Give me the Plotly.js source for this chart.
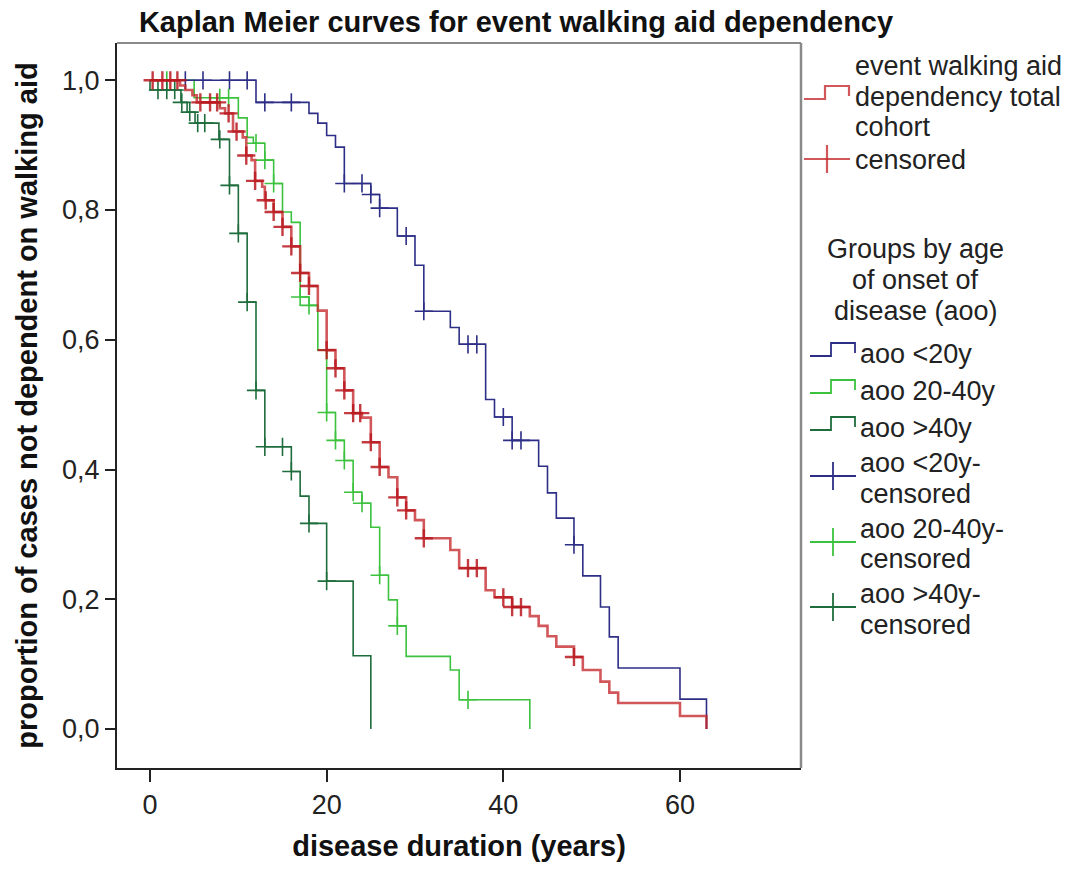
<!DOCTYPE html>
<html>
<head>
<meta charset="utf-8">
<script src="https://cdn.plot.ly/plotly-3.0.1.min.js"></script>
<style>
  html, body { margin: 0; padding: 0; background: #fff; }
  #chart { width: 1077px; height: 870px; }
</style>
</head>
<body>
<div id="chart"></div>
<script>
// Kaplan-Meier estimates: event times (years), survival after each event, censored times

// total cohort
const totalTimes = [3.4, 4, 4.8, 5.3, 7.9, 8.5, 9.4, 10.5, 10.9, 11.5, 11.9, 12.7, 13, 14, 15, 16, 17, 18, 19, 20,
  21, 22, 23, 24, 25, 26, 27, 28, 29, 30, 31, 34, 35, 38, 39, 41, 43, 44, 45, 46, 48, 49, 51, 52, 53, 60, 63];
const totalSurv = [0.992, 0.985, 0.977, 0.966, 0.957, 0.949, 0.921, 0.912, 0.884, 0.877, 0.845, 0.836, 0.815, 0.797,
  0.774, 0.744, 0.703, 0.683, 0.645, 0.584, 0.556, 0.522, 0.487, 0.480, 0.442, 0.404, 0.388, 0.357, 0.337, 0.322,
  0.294, 0.276, 0.248, 0.214, 0.203, 0.188, 0.174, 0.159, 0.143, 0.127, 0.111, 0.091, 0.073, 0.056, 0.040, 0.020, 0];
const totalCensored = [0.3, 1.4, 2.3, 3.1, 5.7, 6.8, 7.6, 8.9, 9.8, 10.9, 11.9, 13.1, 14, 15, 16, 17, 18, 20, 21, 22,
  23, 23.8, 25, 26, 28, 29, 31, 36, 37, 40, 41, 42, 48];

// age of onset < 20 years
const aooU20Times = [12, 18, 19, 20, 21, 22, 25, 26, 28, 30, 31, 34, 35, 38, 39, 41, 44, 45, 46, 48, 49, 51, 52, 53, 60, 63];
const aooU20Surv = [0.966, 0.949, 0.934, 0.915, 0.897, 0.841, 0.824, 0.803, 0.760, 0.715, 0.644, 0.619, 0.593, 0.508,
  0.481, 0.445, 0.405, 0.364, 0.325, 0.284, 0.236, 0.188, 0.142, 0.094, 0.046, 0];
const aooU20Censored = [4, 6, 9, 11, 13, 16, 22, 24, 25, 26, 29, 31, 36, 37, 40, 41, 42, 48];

// age of onset 20-40 years
const aoo2040Times = [5, 10, 11, 11.7, 13, 14, 15, 16, 17, 18, 19, 20, 21, 22, 23, 24, 25, 26, 27, 28, 29, 34, 35, 43];
const aoo2040Surv = [0.973, 0.942, 0.912, 0.903, 0.877, 0.841, 0.797, 0.781, 0.666, 0.653, 0.584, 0.488, 0.445, 0.414,
  0.365, 0.348, 0.311, 0.237, 0.199, 0.159, 0.112, 0.091, 0.045, 0];
const aoo2040Censored = [1.9, 7.9, 8.9, 12, 13, 14, 17, 18, 20, 21, 22, 23, 24, 26, 28, 36];

// age of onset > 40 years
const aooO40Times = [0, 3.5, 4.2, 5.1, 7.8, 9, 10, 11, 12, 13, 16, 17, 18, 20, 23, 25];
const aooO40Surv = [0.985, 0.966, 0.951, 0.934, 0.909, 0.838, 0.764, 0.658, 0.522, 0.435, 0.397, 0.359, 0.317, 0.228, 0.113, 0];
const aooO40Censored = [0.9, 1.9, 2.8, 3.6, 4.5, 5.4, 6.2, 7.9, 9, 10, 11, 12, 13, 15, 16, 18, 20];

const xTicks = [0, 20, 40, 60];
const yTicks = [0, 0.2, 0.4, 0.6, 0.8, 1.0];

const legendGroupTitle = ['Groups by age', 'of onset of', 'disease (aoo)'];
const legendTotalLine = ['event walking aid', 'dependency total', 'cohort'];

const COL = {
  total: 'rgba(196,40,44,0.78)',
  totalMark: 'rgba(185,25,30,0.85)',
  u20: '#2d2f86',
  m2040: '#3cc23f',
  o40: '#1f6d3c'
};

// survival value at time t (right-continuous step function)
function survAt(times, surv, t) {
  let s = 1;
  for (let i = 0; i < times.length; i++) {
    if (times[i] <= t) s = surv[i]; else break;
  }
  return s;
}

function stepTrace(times, surv, color, width) {
  return {
    type: 'scatter', mode: 'lines',
    x: [0].concat(times), y: [1].concat(surv),
    line: { shape: 'hv', color: color, width: width },
    hoverinfo: 'x+y', showlegend: false
  };
}

function censorTrace(times, surv, cens, color, width) {
  return {
    type: 'scatter', mode: 'markers',
    x: cens, y: cens.map(t => survAt(times, surv, t)),
    marker: { symbol: 'cross-thin-open', size: 13, color: color, line: { color: color, width: width } },
    hoverinfo: 'x+y', showlegend: false
  };
}

const traces = [
  stepTrace(aooU20Times, aooU20Surv, COL.u20, 1.6),
  stepTrace(aoo2040Times, aoo2040Surv, COL.m2040, 1.6),
  stepTrace(aooO40Times, aooO40Surv, COL.o40, 1.6),
  censorTrace(aooU20Times, aooU20Surv, aooU20Censored, COL.u20, 1.6),
  censorTrace(aoo2040Times, aoo2040Surv, aoo2040Censored, COL.m2040, 1.6),
  censorTrace(aooO40Times, aooO40Surv, aooO40Censored, COL.o40, 1.6),
  stepTrace(totalTimes, totalSurv, COL.total, 2.6),
  censorTrace(totalTimes, totalSurv, totalCensored, COL.totalMark, 2.4)
];

// plot frame in page pixels
const W = 1077, H = 870;
const M = { l: 117, r: W - 801, t: 43, b: H - 768 };
const PW = W - M.l - M.r, PH = H - M.t - M.b;
const px = p => (p - M.l) / PW;
const py = p => (H - M.b - p) / PH;

const FONT = 'Liberation Sans, Arial, sans-serif';
const annotations = [];
const shapes = [];

function legendText(text, x, y) {
  annotations.push({
    xref: 'paper', yref: 'paper', x: px(x), y: py(y), xanchor: 'left', yanchor: 'middle',
    text: text, showarrow: false, font: { family: FONT, size: 27, color: '#222' }
  });
}
function stepIcon(x0, yBase, color, width) {
  const pts = [[x0, yBase], [x0 + 21, yBase], [x0 + 21, yBase - 13], [x0 + 45, yBase - 13], [x0 + 45, yBase - 3]];
  shapes.push({
    type: 'path', xref: 'paper', yref: 'paper',
    path: 'M' + pts.map(p => px(p[0]) + ',' + py(p[1])).join(' L'),
    line: { color: color, width: width }
  });
}
function crossIcon(x0, yc, color, width) {
  shapes.push({ type: 'line', xref: 'paper', yref: 'paper', x0: px(x0), x1: px(x0 + 46), y0: py(yc), y1: py(yc), line: { color: color, width: width } });
  shapes.push({ type: 'line', xref: 'paper', yref: 'paper', x0: px(x0 + 23), x1: px(x0 + 23), y0: py(yc - 14), y1: py(yc + 14), line: { color: color, width: width } });
}

// top and right edges of the frame
shapes.push({ type: 'line', xref: 'paper', yref: 'paper', x0: 0, x1: 1, y0: 1, y1: 1, line: { color: '#8a8a8a', width: 2 } });
shapes.push({ type: 'line', xref: 'paper', yref: 'paper', x0: 1, x1: 1, y0: 0, y1: 1, line: { color: '#8a8a8a', width: 2.5 } });

// legend: total cohort
stepIcon(804, 99, COL.total, 2.2);
legendText(legendTotalLine[0], 853, 66);
legendText(legendTotalLine[1], 853, 97);
legendText(legendTotalLine[2], 853, 127);
crossIcon(804, 159, COL.total, 2.2);
legendText('censored', 853, 160);

// legend: groups
legendGroupTitle.forEach((t, i) => {
  annotations.push({
    xref: 'paper', yref: 'paper', x: px(916), y: py(249 + i * 31), xanchor: 'center', yanchor: 'middle',
    text: t, showarrow: false, font: { family: FONT, size: 27, color: '#222' }
  });
});
stepIcon(810, 356, COL.u20, 1.8);
legendText('aoo <20y', 858, 354);
stepIcon(810, 393, COL.m2040, 1.8);
legendText('aoo 20-40y', 858, 391);
stepIcon(810, 430, COL.o40, 1.8);
legendText('aoo >40y', 858, 428);
crossIcon(810, 476, COL.u20, 1.8);
legendText('aoo <20y-', 858, 463);
legendText('censored', 858, 494);
crossIcon(810, 542, COL.m2040, 1.8);
legendText('aoo 20-40y-', 858, 529);
legendText('censored', 858, 559);
crossIcon(810, 607, COL.o40, 1.8);
legendText('aoo >40y-', 858, 594);
legendText('censored', 858, 625);

const layout = {
  width: W, height: H,
  margin: M,
  paper_bgcolor: '#fff', plot_bgcolor: '#fff',
  separators: ',.',
  showlegend: false,
  title: {
    text: 'Kaplan Meier curves for event walking aid dependency',
    x: 516 / W, xref: 'container', xanchor: 'center',
    y: 1 - 22 / H, yref: 'container', yanchor: 'middle',
    font: { family: FONT, size: 29, color: '#111', weight: 'bold' }
  },
  xaxis: {
    range: [(M.l - 150) / 8.833, (W - M.r - 150) / 8.833],
    tickvals: xTicks, ticktext: xTicks.map(String),
    ticks: 'outside', ticklen: 12, tickwidth: 2, tickcolor: '#222',
    showline: true, linecolor: '#222', linewidth: 2,
    showgrid: false, zeroline: false,
    tickfont: { family: FONT, size: 27, color: '#222' },
    title: { text: 'disease duration (years)', standoff: 16, font: { family: FONT, size: 29, color: '#111', weight: 'bold' } }
  },
  yaxis: {
    range: [-(768 - 729) / 648.7, 1 + (80.3 - 43) / 648.7],
    tickvals: yTicks, tickformat: '.1f',
    ticks: 'outside', ticklen: 10, tickwidth: 2, tickcolor: '#222',
    showline: true, linecolor: '#222', linewidth: 2,
    showgrid: false, zeroline: false,
    tickfont: { family: FONT, size: 27, color: '#222' },
    title: { text: 'proportion of cases not dependent on walking aid', standoff: 16, font: { family: FONT, size: 29, color: '#111', weight: 'bold' } }
  },
  shapes: shapes,
  annotations: annotations
};

Plotly.newPlot('chart', traces, layout, { displayModeBar: false, staticPlot: true });
</script>
</body>
</html>
